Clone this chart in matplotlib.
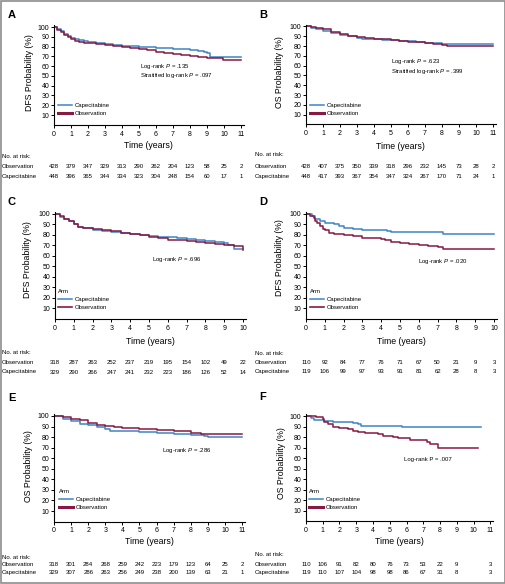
import matplotlib
matplotlib.use('Agg')
import matplotlib.pyplot as plt
from matplotlib.lines import Line2D
from matplotlib.patches import Rectangle
from matplotlib import transforms

plt.rcParams['font.family'] = ['Liberation Sans', 'DejaVu Sans']
plt.rcParams['mathtext.fontset'] = 'custom'
plt.rcParams['mathtext.rm'] = 'Liberation Sans'
plt.rcParams['mathtext.it'] = 'Liberation Sans:italic'

W, H = 506, 584

CAP_COLOR = '#3f84c6'
OBS_COLOR = '#861a42'

# ---- curves: time (years) and survival (%) ----
# A: DFS, all patients
a_cap_t = [0, 0.2, 0.4, 0.6, 0.8, 1.0, 1.25, 1.5, 1.75, 2.0, 2.5, 3.0, 3.5, 4.0, 4.5, 5.0, 5.5, 6.0, 6.5, 7.0, 7.5, 8.0, 8.5, 8.8, 9.0, 9.2, 11.0]
a_cap_s = [100, 97.5, 95.5, 93, 91, 89, 88, 87, 86, 85, 83.5, 82.5, 82, 81, 80.5, 80, 79.5, 79, 78.5, 78, 77, 76, 75, 74, 73, 69, 69]
a_obs_t = [0, 0.2, 0.4, 0.6, 0.8, 1.0, 1.25, 1.5, 1.75, 2.0, 2.5, 3.0, 3.5, 4.0, 4.5, 5.0, 5.5, 6.0, 6.5, 7.0, 7.5, 8.0, 8.5, 9.0, 9.5, 9.95, 11.0]
a_obs_s = [100, 97, 94.5, 92, 89.5, 87.5, 85.5, 84.5, 84, 83.5, 82.5, 82, 81, 79.5, 78.5, 77.5, 76, 74.5, 73.5, 72.5, 71.5, 70, 69, 68.5, 68.5, 66, 66]

# B: OS, all patients
b_cap_t = [0, 0.3, 0.6, 1.0, 1.5, 2.0, 2.5, 3.0, 3.3, 4.0, 4.5, 5.0, 5.5, 6.0, 6.5, 7.0, 7.5, 8.0, 8.5, 11.0]
b_cap_s = [100, 98.5, 97, 95.5, 93, 91.5, 90, 88.5, 87, 87, 86.5, 86, 85.5, 85, 84, 83.5, 83, 82.5, 82, 82]
b_obs_t = [0, 0.3, 0.6, 1.0, 1.5, 2.0, 2.5, 3.0, 3.5, 4.0, 4.5, 5.0, 5.5, 6.0, 6.5, 7.0, 7.5, 8.0, 8.3, 8.7, 11.0]
b_obs_s = [100, 99.5, 98.5, 97, 94, 92, 90.5, 89, 88, 87.5, 87, 86, 85.5, 84.5, 84, 83.5, 82.5, 81.5, 80.5, 80, 80]

# C: DFS, subgroup 1
c_cap_t = [0, 0.25, 0.5, 0.75, 1.0, 1.25, 1.5, 2.0, 2.5, 3.0, 3.5, 4.0, 4.5, 5.0, 5.5, 6.0, 6.5, 7.0, 7.5, 8.0, 8.5, 9.0, 9.2, 9.5, 10.0]
c_cap_s = [100, 97.5, 95, 93, 90, 88, 87, 85, 83.5, 82.5, 81.5, 80.5, 80, 79, 78.5, 78, 77, 76, 75.5, 74.5, 73.5, 72, 70.5, 67, 66.5]
c_obs_t = [0, 0.25, 0.5, 0.75, 1.0, 1.25, 1.5, 2.0, 2.5, 3.0, 3.5, 4.0, 4.5, 5.0, 5.5, 6.0, 6.5, 7.0, 7.5, 8.0, 8.5, 9.0, 9.5, 9.9, 10.0]
c_obs_s = [100, 98, 95.5, 93.5, 90.5, 88, 87, 85.5, 84.5, 84, 82, 80.5, 79.5, 78.5, 77, 75.5, 75, 74, 73.5, 72.5, 71.5, 70.5, 69.5, 69.5, 66]

# D: DFS, subgroup 2
d_cap_t = [0, 0.3, 0.5, 0.75, 1.0, 1.5, 1.75, 2.0, 2.5, 3.0, 3.3, 4.0, 4.3, 4.5, 7.3, 10.0]
d_cap_s = [100, 98, 95.5, 93.5, 91.5, 90.5, 88.5, 87, 86, 85, 84.5, 84.3, 83.5, 82.5, 81, 81]
d_obs_t = [0, 0.2, 0.4, 0.5, 0.6, 0.75, 0.9, 1.0, 1.2, 1.5, 2.0, 2.5, 3.0, 4.0, 4.2, 4.5, 5.0, 5.5, 6.0, 6.5, 7.0, 7.3, 10.0]
d_obs_s = [100, 98, 96, 93.5, 91, 88.5, 86, 84.5, 82, 80.5, 80, 79, 77.5, 76.5, 75, 73.5, 72.5, 71.5, 70.5, 69, 68.5, 66.5, 66.5]

# E: OS, subgroup 1
e_cap_t = [0, 0.5, 1.0, 1.5, 2.0, 2.5, 3.0, 3.3, 4.0, 5.0, 6.0, 7.0, 8.0, 8.8, 9.0, 11.0]
e_cap_s = [100, 97.5, 95.6, 92.7, 91.5, 89.6, 87.7, 86, 85.8, 85.2, 84.2, 83, 81.7, 80.8, 80.2, 80.2]
e_obs_t = [0, 0.5, 1.0, 1.5, 2.0, 2.5, 3.0, 3.5, 4.0, 5.0, 6.0, 7.0, 8.0, 8.6, 11.0]
e_obs_s = [100, 98.8, 97.5, 95.9, 93.7, 91.8, 90.5, 89.6, 89, 87.7, 86.8, 85.8, 84.2, 82.9, 82.9]

# F: OS, subgroup 2
f_cap_t = [0, 0.3, 0.5, 1.1, 1.6, 2.8, 3.1, 3.3, 5.75, 10.45]
f_cap_s = [100, 98.5, 96.5, 95, 94, 93, 92, 90.3, 89.2, 89.2]
f_obs_t = [0, 0.6, 1.0, 1.1, 1.3, 1.6, 2.0, 2.5, 2.8, 3.1, 3.5, 4.3, 4.6, 5.2, 5.5, 6.0, 6.2, 6.9, 7.2, 7.4, 7.9, 10.25]
f_obs_s = [100, 99, 97.5, 94.5, 92.5, 90, 88.5, 87.5, 86, 85, 83.5, 82.5, 81, 80, 79.5, 79, 77.5, 77, 75.5, 73.5, 70, 70]

# ---- numbers at risk ----
years_11 = list(range(12))
years_10 = list(range(11))
f_risk_t = [0, 1, 2, 3, 4, 5, 6, 7, 8, 9, 11]

a_risk_obs = [428, 379, 347, 329, 313, 290, 262, 204, 123, 58, 25, 2]
a_risk_cap = [448, 396, 365, 344, 334, 323, 304, 248, 154, 60, 17, 1]
b_risk_obs = [428, 407, 375, 350, 339, 318, 296, 232, 145, 73, 28, 2]
b_risk_cap = [448, 417, 393, 367, 354, 347, 324, 267, 170, 71, 24, 1]
c_risk_obs = [318, 287, 263, 252, 237, 219, 195, 154, 102, 49, 22]
c_risk_cap = [329, 290, 266, 247, 241, 232, 223, 186, 126, 52, 14]
d_risk_obs = [110, 92, 84, 77, 76, 71, 67, 50, 21, 9, 3]
d_risk_cap = [119, 106, 99, 97, 93, 91, 81, 62, 28, 8, 3]
e_risk_obs = [318, 301, 284, 268, 259, 242, 223, 179, 123, 64, 25, 2]
e_risk_cap = [329, 307, 286, 263, 256, 249, 238, 200, 139, 63, 21, 1]
f_risk_obs = [110, 106, 91, 82, 80, 76, 73, 53, 22, 9, 3]
f_risk_cap = [119, 110, 107, 104, 98, 98, 86, 67, 31, 8, 3]

# layout of each panel, in pixels of the 506x584 picture
panels = [
    dict(letter='A', lxy=(12, 15), x0=54, xu=17.0, y0=124.8, yu=0.978, xmax=11.15,
         ylabel='DFS Probability (%)', ylxy=(30, 73), xly=146,
         cap=(a_cap_t, a_cap_s), obs=(a_obs_t, a_obs_s),
         stats=['Log-rank $P$ = .135', 'Stratified log-rank $P$ = .097'], sxy=(140, 66.5),
         leg=(58, 103), arm=False, obs_leg_lw=2.2,
         rt=years_11, robs=a_risk_obs, rcap=a_risk_cap, ry=(156, 167, 176.3), rx=2),
    dict(letter='B', lxy=(263, 15), x0=306, xu=17.0, y0=124.5, yu=0.98, xmax=11.15,
         ylabel='OS Probability (%)', ylxy=(280, 72), xly=146.5,
         cap=(b_cap_t, b_cap_s), obs=(b_obs_t, b_obs_s),
         stats=['Log-rank $P$ = .623', 'Stratified log-rank $P$ = .399'], sxy=(391, 62),
         leg=(310, 103), arm=False, obs_leg_lw=2.2,
         rt=years_11, robs=b_risk_obs, rcap=b_risk_cap, ry=(155, 167, 176.3), rx=255),
    dict(letter='C', lxy=(12, 202), x0=55, xu=18.8, y0=318.8, yu=1.048, xmax=10.15,
         ylabel='DFS Probability (%)', ylxy=(28, 260), xly=341,
         cap=(c_cap_t, c_cap_s), obs=(c_obs_t, c_obs_s),
         stats=['Log-rank $P$ = .696'], sxy=(152, 259.5),
         leg=(58, 289), arm=True, obs_leg_lw=1.2,
         rt=years_10, robs=c_risk_obs, rcap=c_risk_cap, ry=(353, 362.3, 372), rx=2),
    dict(letter='D', lxy=(263, 202), x0=306, xu=18.8, y0=318.8, yu=1.048, xmax=10.15,
         ylabel='DFS Probability (%)', ylxy=(280, 258), xly=341,
         cap=(d_cap_t, d_cap_s), obs=(d_obs_t, d_obs_s),
         stats=['Log-rank $P$ = .020'], sxy=(418, 261),
         leg=(310, 289), arm=True, obs_leg_lw=1.2,
         rt=years_10, robs=d_risk_obs, rcap=d_risk_cap, ry=(353.3, 362.7, 371.7), rx=255),
    dict(letter='E', lxy=(12, 398), x0=54, xu=17.1, y0=521.6, yu=1.056, xmax=11.15,
         ylabel='OS Probability (%)', ylxy=(29, 466), xly=541.7,
         cap=(e_cap_t, e_cap_s), obs=(e_obs_t, e_obs_s),
         stats=['Log-rank $P$ = .286'], sxy=(162, 450.5),
         leg=(59, 489), arm=True, obs_leg_lw=2.2,
         rt=years_11, robs=e_risk_obs, rcap=e_risk_cap, ry=(557.7, 565, 572.3), rx=2),
    dict(letter='F', lxy=(263, 397), x0=306, xu=16.75, y0=521.2, yu=1.052, xmax=11.15,
         ylabel='OS Probability (%)', ylxy=(281, 463), xly=541.7,
         cap=(f_cap_t, f_cap_s), obs=(f_obs_t, f_obs_s),
         stats=['Log-rank P = .007'], sxy=(404, 460),
         leg=(309, 489), arm=True, obs_leg_lw=2.2,
         rt=f_risk_t, robs=f_risk_obs, rcap=f_risk_cap, ry=(555, 564.3, 572.3), rx=255),
]

YTOP = 102
SMALL = 4.3

fig = plt.figure(figsize=(W / 100, H / 100), dpi=100)


def fx(x):
    return x / W


def fy(y):
    return 1 - y / H


for p in panels:
    left = p['x0']
    right = p['x0'] + p['xmax'] * p['xu']
    bottom = p['y0']
    top = p['y0'] - YTOP * p['yu']
    ax = fig.add_axes([fx(left), fy(bottom), (right - left) / W, (bottom - top) / H])

    ax.step(p['cap'][0], p['cap'][1], where='post', color=CAP_COLOR, lw=1.1)
    ax.step(p['obs'][0], p['obs'][1], where='post', color=OBS_COLOR, lw=1.1)

    ax.set_xlim(0, p['xmax'])
    ax.set_ylim(0, YTOP)
    ax.set_xticks(range(int(p['xmax']) + 1))
    ax.set_yticks(range(10, 101, 10))
    for s in ['top', 'right']:
        ax.spines[s].set_visible(False)
    for s in ['left', 'bottom']:
        ax.spines[s].set_linewidth(0.8)
    ax.tick_params(direction='out', length=2, width=0.7, labelsize=5, pad=1.5)
    ax.tick_params(axis='x', pad=2.2)

    ax.set_xlabel('Time (years)', fontsize=6.3)
    ax.xaxis.set_label_coords(fx((left + right) / 2), fy(p['xly']), transform=fig.transFigure)
    ax.xaxis.label.set_va('center')
    ax.set_ylabel(p['ylabel'], fontsize=6.3)
    ax.yaxis.set_label_coords(fx(p['ylxy'][0]), fy(p['ylxy'][1]), transform=fig.transFigure)
    ax.yaxis.label.set_va('center')

    fig.text(fx(p['lxy'][0]), fy(p['lxy'][1]), p['letter'], fontsize=8, fontweight='bold',
             ha='center', va='center')

    for i, line in enumerate(p['stats']):
        fig.text(fx(p['sxy'][0]), fy(p['sxy'][1] + 9 * i), line, fontsize=SMALL, va='center')

    handles = [Line2D([], [], color=CAP_COLOR, lw=1.1),
               Line2D([], [], color=OBS_COLOR, lw=p['obs_leg_lw'])]
    leg = ax.legend(handles, ['Capecitabine', 'Observation'],
                    title='Arm' if p['arm'] else None, title_fontsize=SMALL,
                    fontsize=SMALL, frameon=False, loc='upper left',
                    bbox_to_anchor=(fx(p['leg'][0]), fy(p['leg'][1])),
                    bbox_transform=fig.transFigure, borderpad=0, borderaxespad=0,
                    handlelength=2.35, handletextpad=0.5, labelspacing=0.45,
                    alignment='left')

    # numbers at risk
    ry0, ry1, ry2 = p['ry']
    fig.text(fx(p['rx']), fy(ry0), 'No. at risk:', fontsize=SMALL, va='center')
    fig.text(fx(p['rx']), fy(ry1), 'Observation', fontsize=SMALL, va='center')
    fig.text(fx(p['rx']), fy(ry2), 'Capecitabine', fontsize=SMALL, va='center')
    blend = transforms.blended_transform_factory(ax.transData, fig.transFigure)
    for t, n_obs, n_cap in zip(p['rt'], p['robs'], p['rcap']):
        ax.text(t, fy(ry1), str(n_obs), transform=blend, fontsize=SMALL,
                ha='center', va='center', clip_on=False)
        ax.text(t, fy(ry2), str(n_cap), transform=blend, fontsize=SMALL,
                ha='center', va='center', clip_on=False)

fig.patches.append(Rectangle((0.001, 0.001), 0.997, 0.997, transform=fig.transFigure,
                             fill=False, edgecolor='#8c8c8c', lw=1.2))

fig.savefig('out.png', dpi=100)
